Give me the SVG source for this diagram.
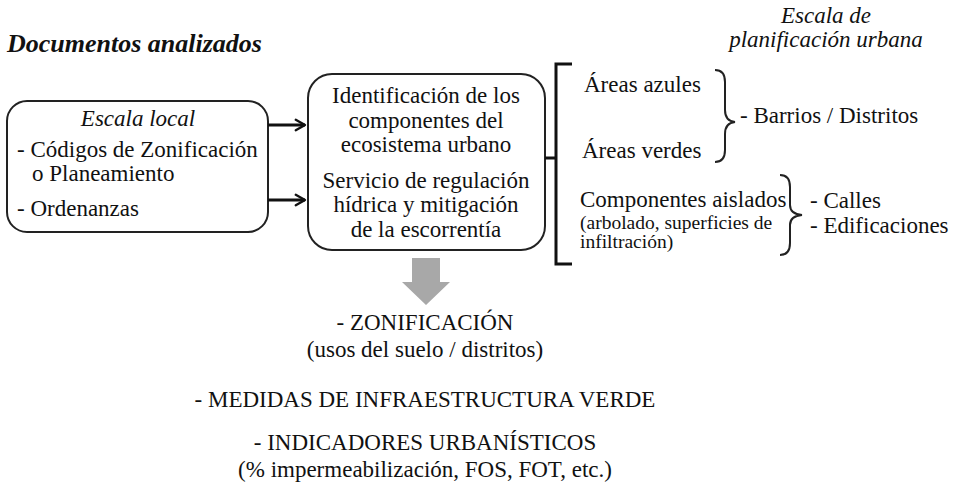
<svg xmlns="http://www.w3.org/2000/svg" width="957" height="486" viewBox="0 0 957 486">
<style>
text{font-family:'Liberation Serif','Times New Roman',Tinos,'DejaVu Serif',serif}
.t{font-size:23px;fill:#111}
.i{font-style:italic}
.s{font-size:19.5px}
.m{text-anchor:middle}
.box{fill:#fff;stroke:#222;stroke-width:2}
.ln{fill:none;stroke:#111;stroke-width:3}
.br{fill:none;stroke:#222;stroke-width:2}
</style>
<defs>
<marker id="chev" viewBox="0 0 10 10" refX="8" refY="5" markerWidth="4.4" markerHeight="4.4" orient="auto" markerUnits="strokeWidth">
<path d="M1,1 L8,5 L1,9" fill="none" stroke="#111" stroke-width="1.8" stroke-linecap="round" stroke-linejoin="round"/>
</marker>
</defs>
<rect width="957" height="486" fill="#fff"/>
<text class="t" x="7" y="52" style="font-size:26px;font-weight:bold;font-style:italic">Documentos analizados</text>
<g id="escala-planificacion">
<text class="t i m" x="826" y="23">Escala de</text>
<text class="t i m" x="826" y="47">planificación urbana</text>
</g>
<g id="escala-local">
<rect class="box" x="7" y="101" width="261" height="131" rx="20"/>
<text class="t i m" x="138" y="126">Escala local</text>
<text class="t" x="17" y="157">- Códigos de Zonificación</text>
<text class="t" x="32" y="181">o Planeamiento</text>
<text class="t" x="17" y="216">- Ordenanzas</text>
</g>
<g id="identificacion">
<rect class="box" x="308" y="74" width="237" height="176" rx="24"/>
<text class="t m" x="426" y="103">Identificación de los</text>
<text class="t m" x="426" y="128">componentes del</text>
<text class="t m" x="426" y="152">ecosistema urbano</text>
<text class="t m" x="426" y="188">Servicio de regulación</text>
<text class="t m" x="426" y="212">hídrica y mitigación</text>
<text class="t m" x="426" y="237">de la escorrentía</text>
</g>
<g id="componentes">
<text class="t" x="584" y="92">Áreas azules</text>
<text class="t" x="582" y="158">Áreas verdes</text>
<text class="t" x="580" y="207">Componentes aislados</text>
<text class="t s" x="580" y="229">(arbolado, superficies de</text>
<text class="t s" x="580" y="248">infiltración)</text>
</g>
<g id="barrios">
<text class="t" x="740" y="123">- Barrios / Distritos</text>
</g>
<g id="calles">
<text class="t" x="810" y="208">- Calles</text>
<text class="t" x="810" y="233">- Edificaciones</text>
</g>
<g id="resultados">
<text class="t m" x="425" y="330">- ZONIFICACIÓN</text>
<text class="t m" x="425" y="357">(usos del suelo / distritos)</text>
<text class="t m" x="425" y="407">- MEDIDAS DE INFRAESTRUCTURA VERDE</text>
<text class="t m" x="425" y="450">- INDICADORES URBANÍSTICOS</text>
<text class="t m" x="425" y="477">(% impermeabilización, FOS, FOT, etc.)</text>
</g>
<g id="connectors">
<line class="ln" x1="268" y1="125" x2="305" y2="125" stroke-width="4" marker-end="url(#chev)"/>
<line class="ln" x1="268" y1="200" x2="305" y2="200" stroke-width="4" marker-end="url(#chev)"/>
<line class="ln" x1="545" y1="158" x2="556" y2="158"/>
<path class="ln" d="M572,64 L556,64 L556,264 L572,264"/>
<path class="br" d="M715,70 Q725,70 725,82 L725,110 Q725,121 735,122 Q725,123 725,134 L725,150 Q725,162 715,162"/>
<path class="br" d="M780,175 Q790,175 790,187 L790,205 Q790,214 802,215 Q790,216 790,225 L790,243 Q790,255 780,255"/>
<path d="M412,258 L440,258 L440,282 L450,282 L426,305 L402,282 L412,282 Z" fill="#a8a8a8"/>
</g>
</svg>
